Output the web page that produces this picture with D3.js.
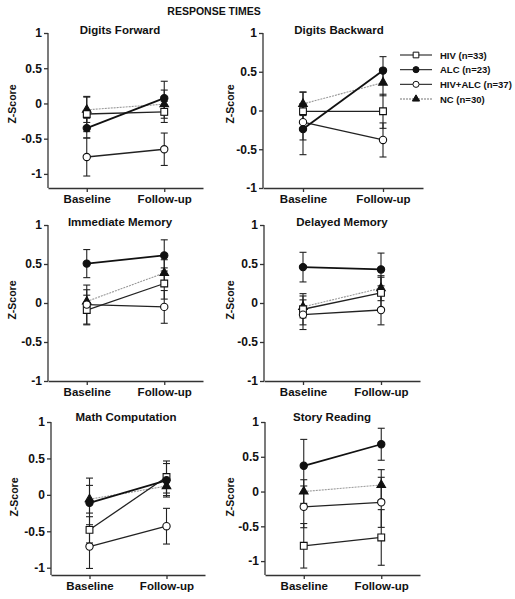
<!DOCTYPE html>
<html>
<head>
<meta charset="utf-8">
<script src="https://cdn.jsdelivr.net/npm/d3@7"></script>
<style>
  html, body { margin: 0; padding: 0; background: #fff; }
  svg { display: block; font-family: "Liberation Sans", Arial, sans-serif; }
</style>
</head>
<body>
<svg id="chart" width="515" height="599"></svg>
<script>
// ---------- data ----------
const mainTitle = "RESPONSE TIMES";
const categories = ["Baseline", "Follow-up"];
const groupNames = ["HIV (n=33)", "ALC (n=23)", "HIV+ALC (n=37)", "NC (n=30)"];
const panelTitles = ["Digits Forward", "Digits Backward", "Immediate Memory", "Delayed Memory", "Math Computation", "Story Reading"];
const yTickValues = [-1, -0.5, 0, 0.5, 1];
const yTickLabels = ["-1", "-0.5", "0", "0.5", "1"];
const yAxisLabel = "Z-Score";

// means [baseline, follow-up] per panel
const hivMean    = [[-0.15, -0.12], [-0.01, -0.01], [-0.09, 0.25], [-0.08, 0.13], [-0.48, 0.245], [-0.78, -0.66]];
const hivErr     = [[0.25, 0.15], [0.25, 0.22], [0.19, 0.20], [0.20, 0.20], [0.18, 0.22], [0.32, 0.40]];
const alcMean    = [[-0.35, 0.075], [-0.24, 0.515], [0.505, 0.61], [0.46, 0.43], [-0.11, 0.20], [0.37, 0.68]];
const alcErr     = [[0.14, 0.24], [0.33, 0.18], [0.18, 0.20], [0.19, 0.21], [0.34, 0.23], [0.38, 0.23]];
const hivAlcMean = [[-0.76, -0.65], [-0.15, -0.38], [-0.02, -0.05], [-0.15, -0.09], [-0.71, -0.43], [-0.22, -0.155]];
const hivAlcErr  = [[0.27, 0.23], [0.23, 0.22], [0.25, 0.21], [0.19, 0.19], [0.30, 0.245], [0.30, 0.36]];
const ncMean     = [[-0.09, -0.01], [0.085, 0.36], [0.02, 0.385], [-0.05, 0.19], [-0.06, 0.12], [0.0, 0.095]];
const ncErr      = [[0.18, 0.20], [0.15, 0.17], [0.15, 0.17], [0.14, 0.16], [0.19, 0.13], [0.17, 0.22]];

// ---------- layout ----------
const layouts = [
  {x0: 48,  x1: 203, yTop: 33,  yBot: 188, yMin: -1.2, titleX: 120, titleY: 34,  zX: 12,  zY: 104},
  {x0: 263, x1: 423, yTop: 33,  yBot: 188, yMin: -1.0, titleX: 339, titleY: 34,  zX: 230, zY: 104},
  {x0: 48,  x1: 203, yTop: 225, yBot: 381, yMin: -1.0, titleX: 120, titleY: 226, zX: 12,  zY: 300},
  {x0: 264, x1: 420, yTop: 225, yBot: 381, yMin: -1.0, titleX: 342, titleY: 226, zX: 230, zY: 300},
  {x0: 51,  x1: 205, yTop: 422, yBot: 575, yMin: -1.1, titleX: 126, titleY: 421, zX: 14,  zY: 497},
  {x0: 265, x1: 420, yTop: 422, yBot: 575, yMin: -1.2, titleX: 332, titleY: 421, zX: 230, zY: 497}
];

const groups = [
  {name: groupNames[0], mean: hivMean,    err: hivErr,    shape: d3.symbolSquare,   size: 46, fill: "#fff", line: "#222", lw: 1.3, dash: null},
  {name: groupNames[1], mean: alcMean,    err: alcErr,    shape: d3.symbolCircle,   size: 42, fill: "#111", line: "#111", lw: 1.8, dash: null},
  {name: groupNames[2], mean: hivAlcMean, err: hivAlcErr, shape: d3.symbolCircle,   size: 42, fill: "#fff", line: "#222", lw: 1.3, dash: null},
  {name: groupNames[3], mean: ncMean,     err: ncErr,     shape: d3.symbolTriangle, size: 32, fill: "#111", line: "#999", lw: 1.1, dash: "2,1"}
];
const drawOrder = [3, 0, 2, 1];

const svg = d3.select("#chart");

svg.append("text")
  .attr("x", 214).attr("y", 15)
  .attr("text-anchor", "middle")
  .attr("font-size", 10.5).attr("font-weight", "bold")
  .attr("fill", "#111")
  .text(mainTitle);

panelTitles.forEach((title, p) => {
  const L = layouts[p];
  const g = svg.append("g");
  const x = d3.scalePoint().domain(categories).range([L.x0, L.x1]).padding(0.5);
  const y = d3.scaleLinear().domain([L.yMin, 1]).range([L.yBot, L.yTop]);

  const yAxis = d3.axisLeft(y).tickValues(yTickValues)
    .tickFormat((d, i) => yTickLabels[i]).tickSize(4).tickPadding(2).tickSizeOuter(0);
  const ya = g.append("g").attr("transform", `translate(${L.x0},0)`).call(yAxis);
  ya.select(".domain").attr("d", `M0,${L.yTop}V${L.yBot}`);
  ya.selectAll("text").attr("font-size", 12).attr("font-weight", "bold").attr("fill", "#111").attr("font-family", "Liberation Sans, Arial, sans-serif");
  ya.selectAll("path,line").attr("stroke", "#333").attr("stroke-width", 1.3);

  const xAxis = d3.axisBottom(x).tickSize(4).tickPadding(3).tickSizeOuter(0);
  const xa = g.append("g").attr("transform", `translate(0,${L.yBot})`).call(xAxis);
  xa.selectAll("text").attr("font-size", 11.5).attr("font-weight", "bold").attr("fill", "#111").attr("font-family", "Liberation Sans, Arial, sans-serif");
  xa.selectAll("path,line").attr("stroke", "#333").attr("stroke-width", 1.3);

  g.append("text").attr("x", L.titleX).attr("y", L.titleY)
    .attr("text-anchor", "middle").attr("font-size", 11.5).attr("font-weight", "bold").attr("fill", "#111")
    .text(title);
  g.append("text")
    .attr("transform", `translate(${L.zX + 4},${L.zY}) rotate(-90)`)
    .attr("text-anchor", "middle").attr("font-size", 10.5).attr("font-weight", "bold").attr("fill", "#111")
    .text(yAxisLabel);

  drawOrder.forEach(gi => {
    const G = groups[gi];
    categories.forEach((c, ci) => {
      const m = G.mean[p][ci], e = G.err[p][ci];
      const cx = x(c);
      g.append("line").attr("x1", cx).attr("x2", cx).attr("y1", y(m - e)).attr("y2", y(m + e))
        .attr("stroke", "#222").attr("stroke-width", 1.1);
      [m - e, m + e].forEach(v => {
        g.append("line").attr("x1", cx - 3.5).attr("x2", cx + 3.5).attr("y1", y(v)).attr("y2", y(v))
          .attr("stroke", "#222").attr("stroke-width", 1.1);
      });
    });
  });

  drawOrder.forEach(gi => {
    const G = groups[gi];
    const line = d3.line().x((d, i) => x(categories[i])).y(d => y(d));
    g.append("path").attr("d", line(G.mean[p]))
      .attr("fill", "none").attr("stroke", G.line).attr("stroke-width", G.lw)
      .attr("stroke-dasharray", G.dash);
  });

  drawOrder.forEach(gi => {
    const G = groups[gi];
    categories.forEach((c, ci) => {
      g.append("path")
        .attr("d", d3.symbol().type(G.shape).size(G.size)())
        .attr("transform", `translate(${x(c)},${y(G.mean[p][ci])})`)
        .attr("fill", G.fill).attr("stroke", "#111").attr("stroke-width", 1.1);
    });
  });
});

// legend
const leg = svg.append("g");
const legY = d3.scalePoint().domain(groupNames).range([55, 99]);
groups.forEach(G => {
  const yy = legY(G.name);
  leg.append("line").attr("x1", 400).attr("x2", 432).attr("y1", yy).attr("y2", yy)
    .attr("stroke", G.line === "#999" ? "#777" : "#222").attr("stroke-width", 1.1)
    .attr("stroke-dasharray", G.dash);
  leg.append("path").attr("d", d3.symbol().type(G.shape).size(G.size * 0.7)())
    .attr("transform", `translate(416,${yy})`)
    .attr("fill", G.fill).attr("stroke", "#111").attr("stroke-width", 1);
  leg.append("text").attr("x", 440).attr("y", yy + 3.5)
    .attr("font-size", 9.5).attr("font-weight", "bold").attr("fill", "#111")
    .text(G.name);
});
</script>
</body>
</html>
